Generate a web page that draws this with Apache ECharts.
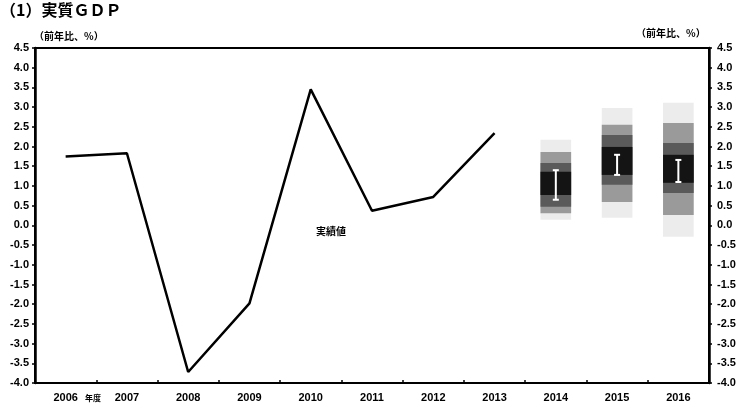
<!DOCTYPE html>
<html><head><meta charset="utf-8">
<script src="https://cdn.jsdelivr.net/npm/echarts@6/dist/echarts.min.js"></script>
<style>html,body{margin:0;padding:0;background:#fff}#c{width:747px;height:405px}</style>
</head><body><div id="c"></div>
<script>
const categories = ['2006','2007','2008','2009','2010','2011','2012','2013','2014','2015','2016'];
const actual = [1.75, 1.83, -3.72, -1.98, 3.45, 0.37, 0.72, 2.34, null, null, null];
const fanYears = ['2014','2015','2016'];
const outerLow  = [0.14, 0.19, -0.29];
const outerHigh = [2.17, 2.98, 3.11];
const midLow    = [0.31, 0.59, 0.26];
const midHigh   = [1.86, 2.55, 2.60];
const darkLow   = [0.47, 1.03, 0.82];
const darkHigh  = [1.58, 2.29, 2.09];
const coreLow   = [0.77, 1.28, 1.08];
const coreHigh  = [1.36, 1.99, 1.79];
const markLow   = [0.65, 1.28, 1.10];
const markHigh  = [1.40, 1.79, 1.66];
const yTicksMin = -4.0, yTicksMax = 4.5, yStep = 0.5;

const fanData = fanYears.map((y, i) => [y, outerLow[i], outerHigh[i], midLow[i], midHigh[i], darkLow[i], darkHigh[i], coreLow[i], coreHigh[i], markLow[i], markHigh[i]]);

const chart = echarts.init(document.getElementById('c'));
const lblFont = {fontFamily: 'Liberation Sans, Arial, sans-serif', fontWeight: 'bold', fontSize: 11, color: '#000'};
function yAxis(pos) {
  return {
    type: 'value', position: pos, min: yTicksMin, max: yTicksMax, interval: yStep,
    axisLine: {show: true, lineStyle: {color: '#000', width: 2.5}},
    axisTick: {show: true, inside: false, length: 3, lineStyle: {color: '#000', width: 1.5}},
    splitLine: {show: false},
    axisLabel: Object.assign({margin: pos === 'left' ? 6 : 8, formatter: v => v.toFixed(1)}, lblFont)
  };
}
chart.setOption({
  animation: false,
  grid: {left: 35, right: 38, top: 48, bottom: 22, show: true, borderColor: '#000', borderWidth: 2},
  xAxis: {
    type: 'category', data: categories, boundaryGap: true,
    axisLine: {onZero: false, lineStyle: {color: '#000', width: 2}},
    axisTick: {show: true, inside: true, length: 3, lineStyle: {color: '#000', width: 1.5}},
    axisLabel: Object.assign({margin: 9}, lblFont)
  },
  yAxis: [yAxis('left'), yAxis('right')],
  graphic: [
    {type: 'text', left: 0, top: 2, style: {text: '（1）実質ＧＤＰ', font: 'bold 16px "Noto Sans CJK JP", sans-serif', fill: '#000'}},
    {type: 'text', left: 34, top: 31, style: {text: '（前年比、%）', font: 'bold 10px "Noto Sans CJK JP", sans-serif', fill: '#000'}},
    {type: 'text', left: 636, top: 28, style: {text: '（前年比、%）', font: 'bold 10px "Noto Sans CJK JP", sans-serif', fill: '#000'}},
    {type: 'text', left: 316, top: 226, style: {text: '実績値', font: 'bold 10px "Noto Sans CJK JP", sans-serif', fill: '#000'}},
    {type: 'text', left: 85, top: 394, style: {text: '年度', font: 'bold 8px "Noto Sans CJK JP", sans-serif', fill: '#000'}}
  ],
  series: [
    {type: 'line', data: actual, symbol: 'none', connectNulls: false,
     lineStyle: {color: '#000', width: 2.5}, z: 3},
    {type: 'custom', data: fanData, encode: {x: 0, y: [1, 2]}, z: 2,
     renderItem: function (params, api) {
       const cx = api.coord([api.value(0), 0])[0];
       const w = api.size([1, 0])[0] * 0.5;
       const band = (lo, hi, fill) => {
         const top = api.coord([api.value(0), api.value(hi)])[1];
         const bot = api.coord([api.value(0), api.value(lo)])[1];
         return {type: 'rect', shape: {x: cx - w / 2, y: top, width: w, height: bot - top}, style: {fill: fill}};
       };
       const mTop = api.coord([api.value(0), api.value(10)])[1];
       const mBot = api.coord([api.value(0), api.value(9)])[1];
       const ws = {stroke: '#fff', lineWidth: 2};
       return {type: 'group', children: [
         band(1, 2, '#ececec'),
         band(3, 4, '#9a9a9a'),
         band(5, 6, '#5a5a5a'),
         band(7, 8, '#141414'),
         {type: 'line', shape: {x1: cx, y1: mTop, x2: cx, y2: mBot}, style: ws},
         {type: 'line', shape: {x1: cx - 3, y1: mTop, x2: cx + 3, y2: mTop}, style: ws},
         {type: 'line', shape: {x1: cx - 3, y1: mBot, x2: cx + 3, y2: mBot}, style: ws}
       ]};
     }}
  ]
});
</script></body></html>
